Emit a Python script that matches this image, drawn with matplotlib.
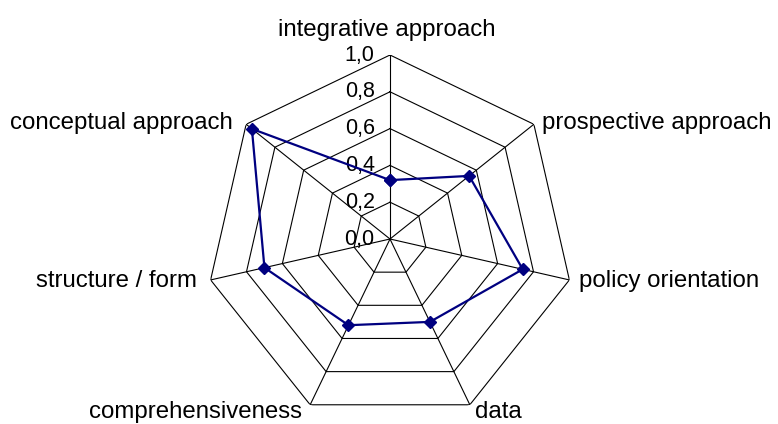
import numpy as np
import matplotlib
matplotlib.use('Agg')
import matplotlib.pyplot as plt

plt.rcParams['font.family'] = ['Liberation Sans', 'DejaVu Sans']

categories = ['integrative approach', 'prospective approach', 'policy orientation',
              'data', 'comprehensiveness', 'structure / form', 'conceptual approach']
values = [0.32, 0.55, 0.74, 0.50, 0.52, 0.70, 0.96]
r_ticks = [0.0, 0.2, 0.4, 0.6, 0.8, 1.0]
r_labels = ['0,0', '0,2', '0,4', '0,6', '0,8', '1,0']

# label offsets in points (x, y) and horizontal alignment
label_off = [(-2, 18), (6, 1), (7, -1), (4, -5), (-6, -5), (-10, -1), (-10, 1)]
label_ha = ['center', 'left', 'left', 'left', 'right', 'right', 'right']

n = len(categories)
theta = np.linspace(0, 2 * np.pi, n, endpoint=False)
theta_c = np.append(theta, theta[0])

fig = plt.figure(figsize=(7.78, 4.24), dpi=100)
ax = fig.add_axes([206 / 778, 1 / 424, 368 / 778, 368 / 424], projection='polar')
ax.set_theta_zero_location('N')
ax.set_theta_direction(-1)
ax.set_ylim(0, 1)
ax.grid(False)
ax.spines['polar'].set_visible(False)
ax.set_xticks([])
ax.set_yticks([])

# heptagon grid
for r in r_ticks[1:]:
    ax.plot(theta_c, [r] * (n + 1), color='black', lw=0.8, zorder=1)
for t in theta:
    ax.plot([t, t], [0, 1], color='black', lw=0.8, zorder=1)

# data series
vals_c = values + values[:1]
ax.plot(theta_c, vals_c, color='#000080', lw=1.6, marker='D', markersize=6, zorder=3)

# radial labels
for r, s in zip(r_ticks, r_labels):
    ax.annotate(s, xy=(0, r), xytext=(-11, 0), textcoords='offset points',
                ha='right', va='center', fontsize=15.5, zorder=2)

# category labels
for t, c, off, ha in zip(theta, categories, label_off, label_ha):
    ax.annotate(c, xy=(t, 1), xytext=off, textcoords='offset points',
                ha=ha, va='center', fontsize=17.3, annotation_clip=False)

plt.savefig('out.png', dpi=100)
